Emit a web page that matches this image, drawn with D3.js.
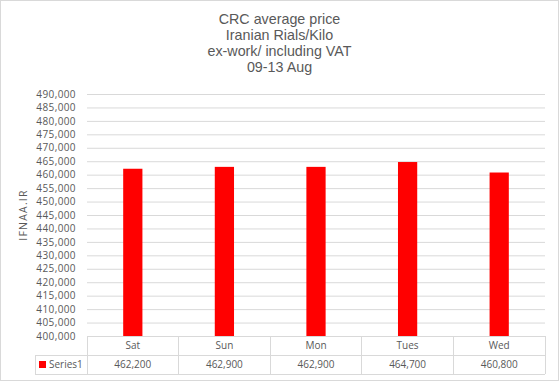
<!DOCTYPE html>
<html>
<head>
<meta charset="utf-8">
<script src="https://cdn.jsdelivr.net/npm/d3@7"></script>
<style>
  body { margin: 0; background: #fff; }
  svg { display: block; }
  .title { font-family: "Liberation Sans", Arial, sans-serif; font-size: 14.3px; fill: #595959; }
  .tick text, .cell, .ylabel { font-family: "Open Sans", sans-serif; font-size: 10px; fill: #595959; }
</style>
</head>
<body>
<div id="chart"></div>
<script>
// chart data
var days = ["Sat", "Sun", "Mon", "Tues", "Wed"];
var prices = [462200, 462900, 462900, 464700, 460800];
var seriesName = "Series1";
var titleLines = ["CRC average price", "Iranian  Rials/Kilo", "ex-work/ including VAT", "09-13 Aug"];
var yTicks = d3.range(400000, 490001, 5000);

var W = 559, H = 381;
var margin = {top: 94, right: 14, bottom: 45, left: 87},
    width = W - margin.left - margin.right,
    height = H - margin.top - margin.bottom;

var svg = d3.select("#chart").append("svg")
    .attr("width", W)
    .attr("height", H);

// outer border
svg.append("rect")
   .attr("x", 0.5).attr("y", 0.5)
   .attr("width", W - 1).attr("height", H - 1)
   .attr("fill", "#fff").attr("stroke", "#d9d9d9");

// title
svg.append("text")
   .attr("class", "title")
   .attr("text-anchor", "middle")
   .selectAll("tspan")
   .data(titleLines)
   .enter().append("tspan")
   .attr("x", W / 2)
   .attr("y", function(d, i) { return 24 + i * 16; })
   .text(function(d) { return d; });

var g = svg.append("g")
    .attr("transform", "translate(" + margin.left + "," + margin.top + ")");

// scales
var x = d3.scaleBand().domain(days).range([0, width]);
var y = d3.scaleLinear().domain([400000, 490000]).range([height, 0]);

// y axis with gridlines
var yAxis = g.append("g")
    .call(d3.axisLeft(y).tickValues(yTicks).tickFormat(d3.format(",")).tickSize(-width).tickPadding(11));
yAxis.select(".domain").remove();
yAxis.selectAll(".tick line").attr("stroke", "#d9d9d9");
yAxis.selectAll(".tick text").style("letter-spacing", "0.4px");

// y axis title
svg.append("text")
   .attr("class", "ylabel")
   .attr("transform", "translate(27," + (margin.top + height / 2) + ") rotate(-90)")
   .attr("text-anchor", "middle")
   .style("letter-spacing", "1.2px")
   .style("font-size", "10.5px")
   .text("IFNAA.IR");

// bars
var barW = x.bandwidth() * 0.21;
g.selectAll(".bar")
 .data(prices)
 .enter().append("rect")
 .attr("class", "bar")
 .attr("x", function(d, i) { return x(days[i]) + x.bandwidth() / 2 - barW / 2; })
 .attr("width", barW)
 .attr("y", function(d) { return y(d); })
 .attr("height", function(d) { return height - y(d); })
 .attr("fill", "#ff0000");

// data table below the plot
var rowH = 19, legendX = 35 - margin.left;
var t = g.append("g").attr("transform", "translate(0," + height + ")");
var lineColor = "#d9d9d9";

function hline(x1, x2, yy) {
  t.append("line").attr("x1", x1).attr("x2", x2).attr("y1", yy).attr("y2", yy)
   .attr("stroke", lineColor).attr("shape-rendering", "crispEdges");
}
function vline(xx, y1, y2) {
  t.append("line").attr("x1", xx).attr("x2", xx).attr("y1", y1).attr("y2", y2)
   .attr("stroke", lineColor).attr("shape-rendering", "crispEdges");
}
hline(0, width, 0);
hline(legendX, width, rowH);
hline(legendX, width, rowH * 2);
vline(legendX, rowH, rowH * 2);
days.forEach(function(d) { vline(x(d), 0, rowH * 2); });
vline(width, 0, rowH * 2);

t.selectAll(".cat")
 .data(days)
 .enter().append("text")
 .attr("class", "cell")
 .attr("text-anchor", "middle")
 .attr("x", function(d) { return x(d) + x.bandwidth() / 2; })
 .attr("y", 13)
 .text(function(d) { return d; });

t.selectAll(".val")
 .data(prices)
 .enter().append("text")
 .attr("class", "cell")
 .attr("text-anchor", "middle")
 .attr("x", function(d, i) { return x(days[i]) + x.bandwidth() / 2; })
 .attr("y", rowH + 13)
 .text(function(d) { return d3.format(",")(d); });

// legend key
t.append("rect")
 .attr("x", legendX + 4).attr("y", rowH + 6)
 .attr("width", 7).attr("height", 7)
 .attr("fill", "#ff0000");
t.append("text")
 .attr("class", "cell")
 .attr("x", legendX + 14)
 .attr("y", rowH + 13)
 .text(seriesName);
</script>
</body>
</html>
